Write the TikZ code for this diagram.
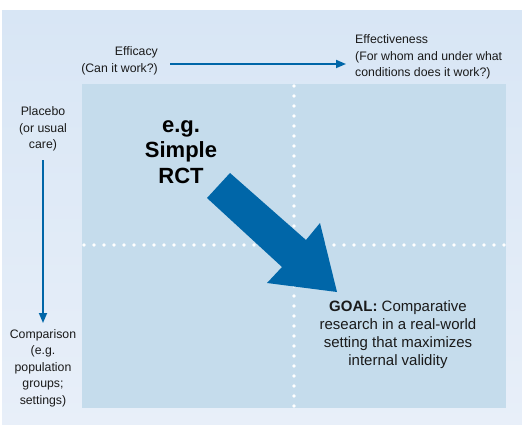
\documentclass[tikz,border=0pt]{standalone}
\usepackage{fontspec}
\setmainfont{Liberation Sans}
\usetikzlibrary{arrows.meta}
\definecolor{outerbg}{HTML}{D8E6F5}
\definecolor{outerbg2}{HTML}{E8EFF9}
\definecolor{innerbg}{HTML}{C5DCEC}
\definecolor{arrowblue}{HTML}{0066A8}
\definecolor{txt}{HTML}{1A1A1A}
\tikzset{
  lbl/.style={font=\fontsize{12.3}{16.5}\selectfont, text=txt, inner sep=0pt},
  axisarrow/.style={draw=arrowblue, line width=1.7pt, -{Triangle[length=10pt,width=8pt]}},
  dotline/.style={draw=white, line width=3.6pt, line cap=round, dash pattern=on 0pt off 10pt},
}
\begin{document}
\begin{tikzpicture}[x=1pt,y=-1pt]
\useasboundingbox (0,0) rectangle (522,425);
\fill[white] (0,0) rectangle (522,425);
\shade[top color=outerbg, bottom color=outerbg2] (2,11) rectangle (522,425);
\fill[innerbg] (82,84) rectangle (506,408);
% dotted dividers
\draw[dotline] (294,86) -- (294,408);
\draw[dotline] (84,245) -- (506,245);
% top axis
\node[lbl, anchor=east, align=right] (eff) at (158,61) {Efficacy\\(Can it work?)};
\node[lbl, anchor=west, align=left] (effv) at (355,57) {Effectiveness\\(For whom and under what\\conditions does it work?)};
\coordinate (ta) at (170,64);
\coordinate (tb) at (346,64);
\draw[axisarrow] (ta) -- (tb);
% left axis
\node[lbl, align=center] (plac) at (43,129) {Placebo\\(or usual\\care)};
\node[lbl, align=center] (comp) at (43,368) {Comparison\\(e.g.\\population\\groups;\\settings)};
\coordinate (la) at (43,160);
\coordinate (lb) at (43,323);
\draw[axisarrow] (la) -- (lb);
% big arrow
\node[font=\fontsize{22}{25.5}\selectfont\bfseries, text=black, align=center, inner sep=0pt] (rct) at (181,152) {e.g.\\Simple\\RCT};
\node[font=\fontsize{15}{18}\selectfont, text=txt, align=center, inner sep=0pt] (goal) at (398,335) {\textbf{GOAL:} Comparative\\research in a real-world\\setting that maximizes\\internal validity};
\fill[arrowblue] (207,198) -- (230,173) -- (306,240) -- (320,223) -- (337,292) -- (267,283) -- (282,267) -- cycle;
\end{tikzpicture}
\end{document}
